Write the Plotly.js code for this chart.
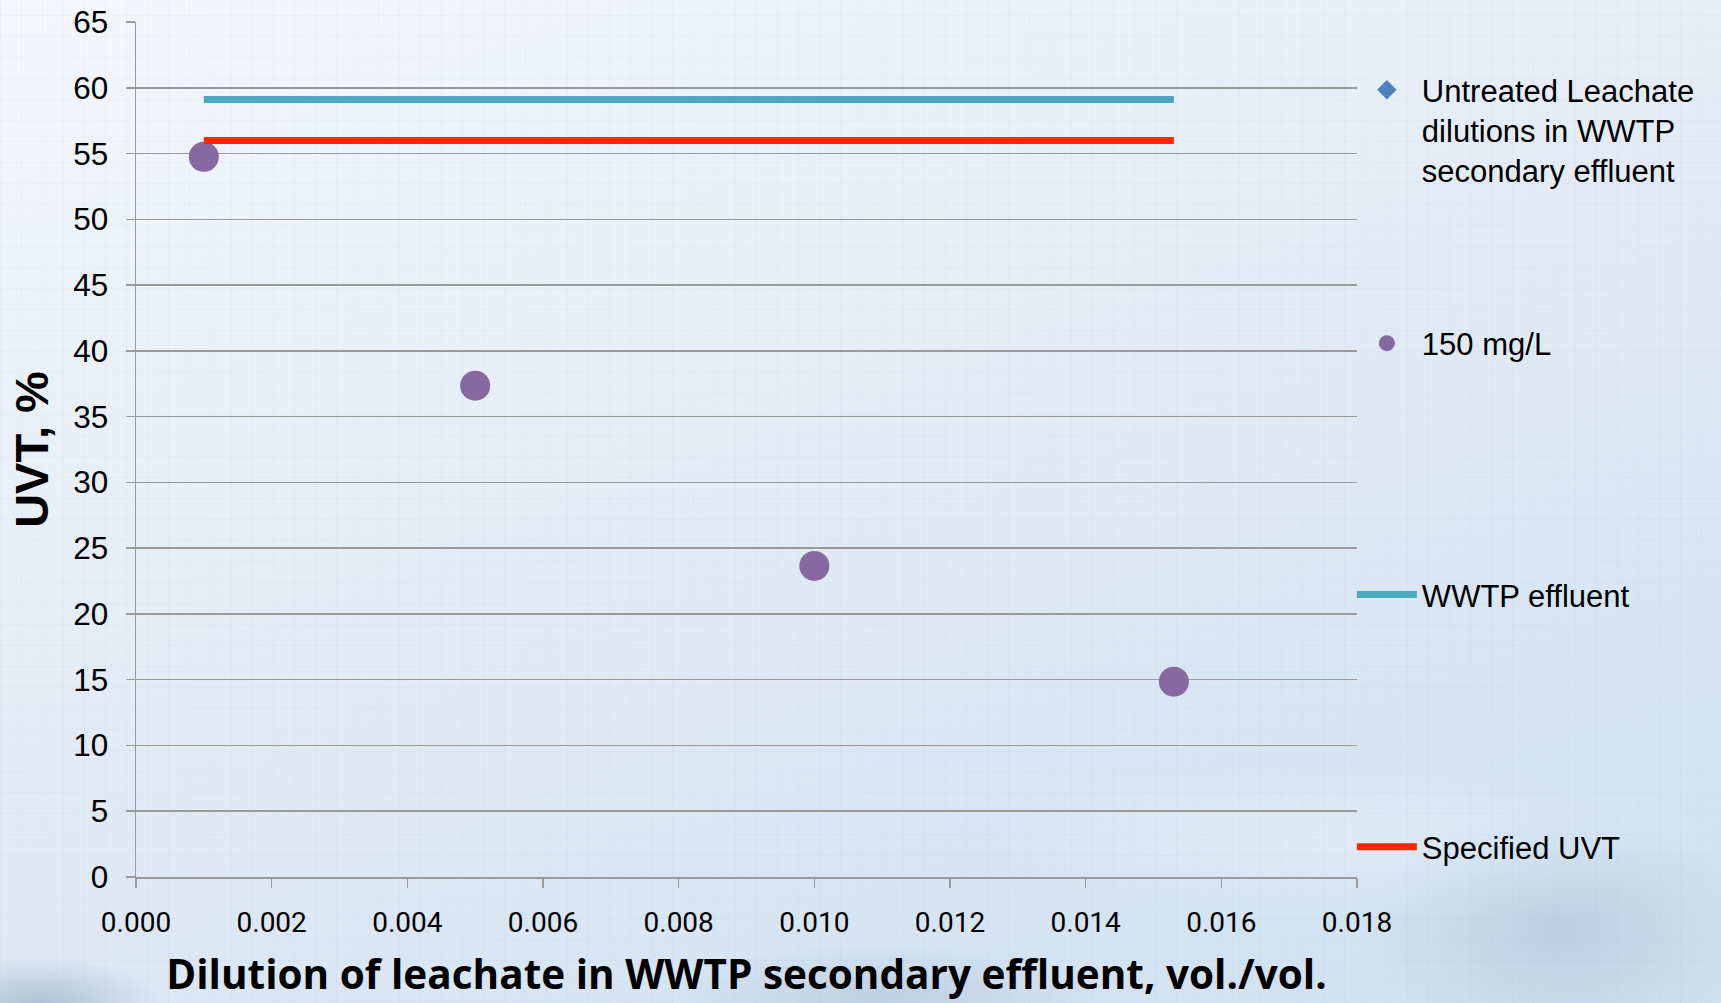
<!DOCTYPE html>
<html>
<head>
<meta charset="utf-8">
<script src="https://cdn.plot.ly/plotly-3.0.1.min.js"></script>
<style>
  html, body { margin: 0; padding: 0; }
  body {
    width: 1721px; height: 1003px; overflow: hidden;
    background:
      repeating-linear-gradient(0deg, rgba(140,165,200,0.06) 0 1px, transparent 1px 21px),
      repeating-linear-gradient(90deg, rgba(140,165,200,0.06) 0 1px, transparent 1px 21px),
      radial-gradient(ellipse 160px 60px at 40px 1003px, rgba(110,135,165,0.40), transparent 75%),
      radial-gradient(ellipse 300px 70px at 880px 995px, rgba(140,165,195,0.30), transparent 75%),
      radial-gradient(ellipse 500px 110px at 1350px 840px, rgba(236,245,252,0.40), transparent 75%),
      radial-gradient(ellipse 260px 160px at 1560px 930px, rgba(140,165,195,0.30), transparent 75%),
      linear-gradient(160deg, #f4f7fb 0%, #e7eef7 35%, #d9e6f3 70%, #cfe0f0 100%);
  }
  #chart { width: 1721px; height: 1003px; }
</style>
</head>
<body>
<div id="chart"></div>
<script>
// Dilution of leachate (vol./vol.) and resulting UV transmittance (%)
const untreatedX = [null];
const untreatedY = [null];

const dose150X = [0.001, 0.005, 0.010, 0.0153];
const dose150Y = [54.75, 37.35, 23.65, 14.85];

const effluentX = [0.001, 0.0153];
const effluentY = [59.1, 59.1];

const specifiedX = [0.001, 0.0153];
const specifiedY = [56.0, 56.0];

const seriesNames = [
  'Untreated Leachate<br>dilutions in WWTP<br>secondary effluent',
  '150 mg/L',
  'WWTP effluent',
  'Specified UVT'
];

const traces = [
  {
    type: 'scatter', mode: 'markers', name: seriesNames[0],
    x: untreatedX, y: untreatedY, legend: 'legend',
    marker: { symbol: 'diamond', size: 15, color: '#4f81bd' }
  },
  {
    type: 'scatter', mode: 'markers', name: seriesNames[1],
    x: dose150X, y: dose150Y, legend: 'legend2',
    marker: { symbol: 'circle', size: 30, color: '#8669a1', line: { width: 0 } }
  },
  {
    type: 'scatter', mode: 'lines', name: seriesNames[2],
    x: effluentX, y: effluentY, legend: 'legend3',
    line: { color: '#4aa8c1', width: 7 }
  },
  {
    type: 'scatter', mode: 'lines', name: seriesNames[3],
    x: specifiedX, y: specifiedY, legend: 'legend4',
    line: { color: '#ff2600', width: 7 }
  }
];

const legendFont = { family: 'Liberation Sans, Arial, sans-serif', size: 31, color: '#000' };
function legendAt(yPaper, anchor, valign) {
  return {
    x: 0.9958, xanchor: 'left', y: yPaper, yanchor: anchor,
    bgcolor: 'rgba(0,0,0,0)', borderwidth: 0,
    font: legendFont, valign: valign, itemwidth: 60
  };
}

const layout = {
  width: 1721, height: 1003,
  margin: { l: 136, r: 364, t: 22, b: 126 },
  paper_bgcolor: 'rgba(0,0,0,0)',
  plot_bgcolor: 'rgba(0,0,0,0)',
  showlegend: true,
  legend: legendAt(0.952, 'top', 'top'),
  legend2: legendAt(0.624, 'middle', 'middle'),
  legend3: legendAt(0.33, 'middle', 'middle'),
  legend4: legendAt(0.035, 'middle', 'middle'),
  xaxis: {
    range: [0, 0.018], dtick: 0.002, tick0: 0, tickformat: '.3f',
    showgrid: false, zeroline: false,
    showline: true, linecolor: '#9a9a9a', linewidth: 1.5,
    ticks: 'outside', ticklen: 9, tickcolor: '#9a9a9a', tickwidth: 1.5,
    ticklabelstandoff: 11,
    tickfont: { family: 'Roboto, sans-serif', size: 28, color: '#000' },
    title: {
      text: 'Dilution of leachate in WWTP secondary effluent, vol./vol.',
      font: { family: 'Open Sans, sans-serif', size: 40.5, color: '#000', weight: 'bold' },
      standoff: 22
    }
  },
  yaxis: {
    range: [0, 65], dtick: 5, tick0: 0,
    showgrid: true, gridcolor: '#9a9a9a', gridwidth: 1.5,
    zeroline: false,
    showline: true, linecolor: '#9a9a9a', linewidth: 1.5,
    ticks: 'outside', ticklen: 9, tickcolor: '#9a9a9a', tickwidth: 1.5,
    ticklabelstandoff: 11,
    tickfont: { family: 'Liberation Sans, Arial, sans-serif', size: 31.5, color: '#000' },
    title: {
      text: 'UVT, %',
      font: { family: 'Liberation Sans, Arial, sans-serif', size: 47, color: '#000', weight: 'bold' },
      standoff: 9
    }
  }
};

Plotly.newPlot('chart', traces, layout, { displayModeBar: false, staticPlot: true });
</script>
</body>
</html>
